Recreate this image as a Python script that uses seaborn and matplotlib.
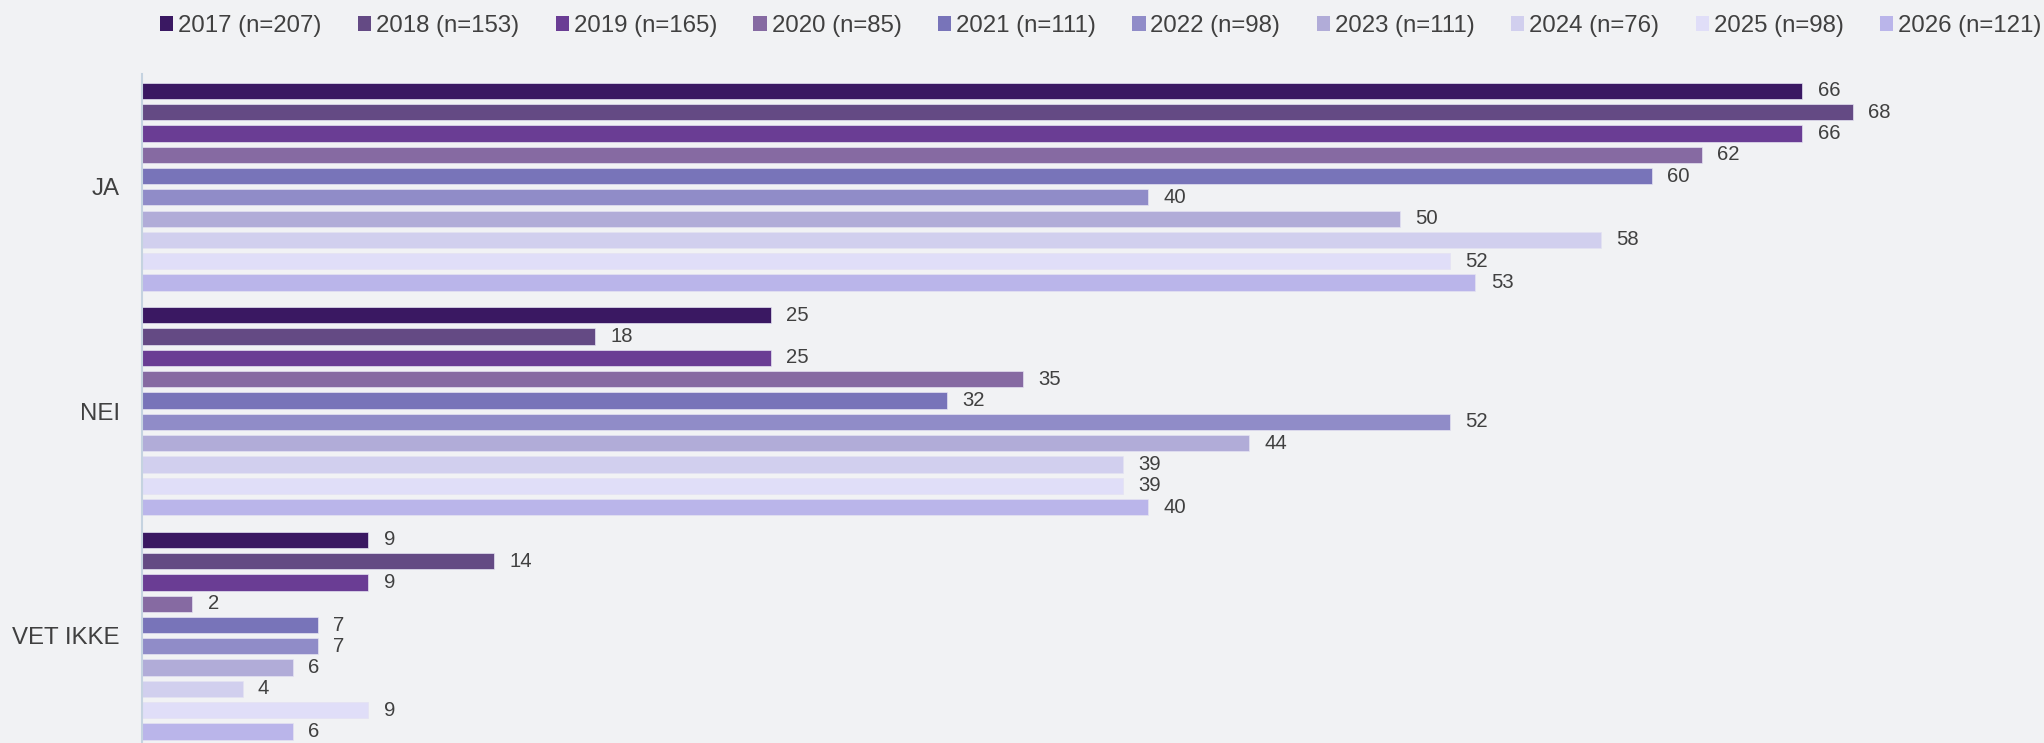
import seaborn as sns
import pandas as pd
import matplotlib.pyplot as plt
from matplotlib.patches import Patch

categories = ['JA', 'NEI', 'VET IKKE']
years = ['2017 (n=207)', '2018 (n=153)', '2019 (n=165)', '2020 (n=85)', '2021 (n=111)',
         '2022 (n=98)', '2023 (n=111)', '2024 (n=76)', '2025 (n=98)', '2026 (n=121)']
ja = [66, 68, 66, 62, 60, 40, 50, 58, 52, 53]
nei = [25, 18, 25, 35, 32, 52, 44, 39, 39, 40]
vet_ikke = [9, 14, 9, 2, 7, 7, 6, 4, 9, 6]
colors = ['#3a1862', '#644a84', '#6a3d94', '#866aa2', '#7874b9',
          '#908cc8', '#b1acd8', '#d1cfee', '#e0def8', '#bab5ea']

rows = []
for cat, vals in zip(categories, [ja, nei, vet_ikke]):
    for yr, v in zip(years, vals):
        rows.append({'svar': cat, 'aar': yr, 'prosent': v})
df = pd.DataFrame(rows)

bg = '#f1f2f4'
txt = '#404040'

sns.set_style('white')
plt.rcParams['font.family'] = ['Liberation Sans', 'DejaVu Sans']

fig = plt.figure(figsize=(20.44, 7.43), dpi=100, facecolor=bg)
ax = fig.add_axes([142 / 2044, 0, 1 - 142 / 2044, 1 - 74 / 743])
ax.set_facecolor(bg)

sns.barplot(data=df, y='svar', x='prosent', hue='aar', order=categories, hue_order=years,
            palette=colors, saturation=1, orient='h', width=0.949, gap=0.235, ax=ax,
            edgecolor='#e4e2f2', linewidth=0.5, legend=False)

for cont in ax.containers:
    ax.bar_label(cont, padding=11, fontsize=14.6, color=txt)

ax.set_xlim(0, 75.6)
ax.set_ylim(2.478, -0.502)
ax.set_xlabel('')
ax.set_ylabel('')
ax.set_xticks([])
ax.tick_params(axis='y', length=0, pad=16, labelsize=17.3, labelcolor=txt)

for s in ['top', 'right', 'bottom']:
    ax.spines[s].set_visible(False)
ax.spines['left'].set_color('#c5d3e0')
ax.spines['left'].set_linewidth(1.5)

handles = [Patch(facecolor=c, edgecolor='none') for c in colors]
fig.legend(handles, years, loc='center', bbox_to_anchor=(0.5385, 1 - 26 / 743), ncol=10,
           frameon=False, fontsize=17.3, handlelength=0.55, handleheight=0.55,
           handletextpad=0.2, columnspacing=1.52, labelcolor=txt)

plt.savefig('out.png', dpi=100, facecolor=bg)
plt.close()
